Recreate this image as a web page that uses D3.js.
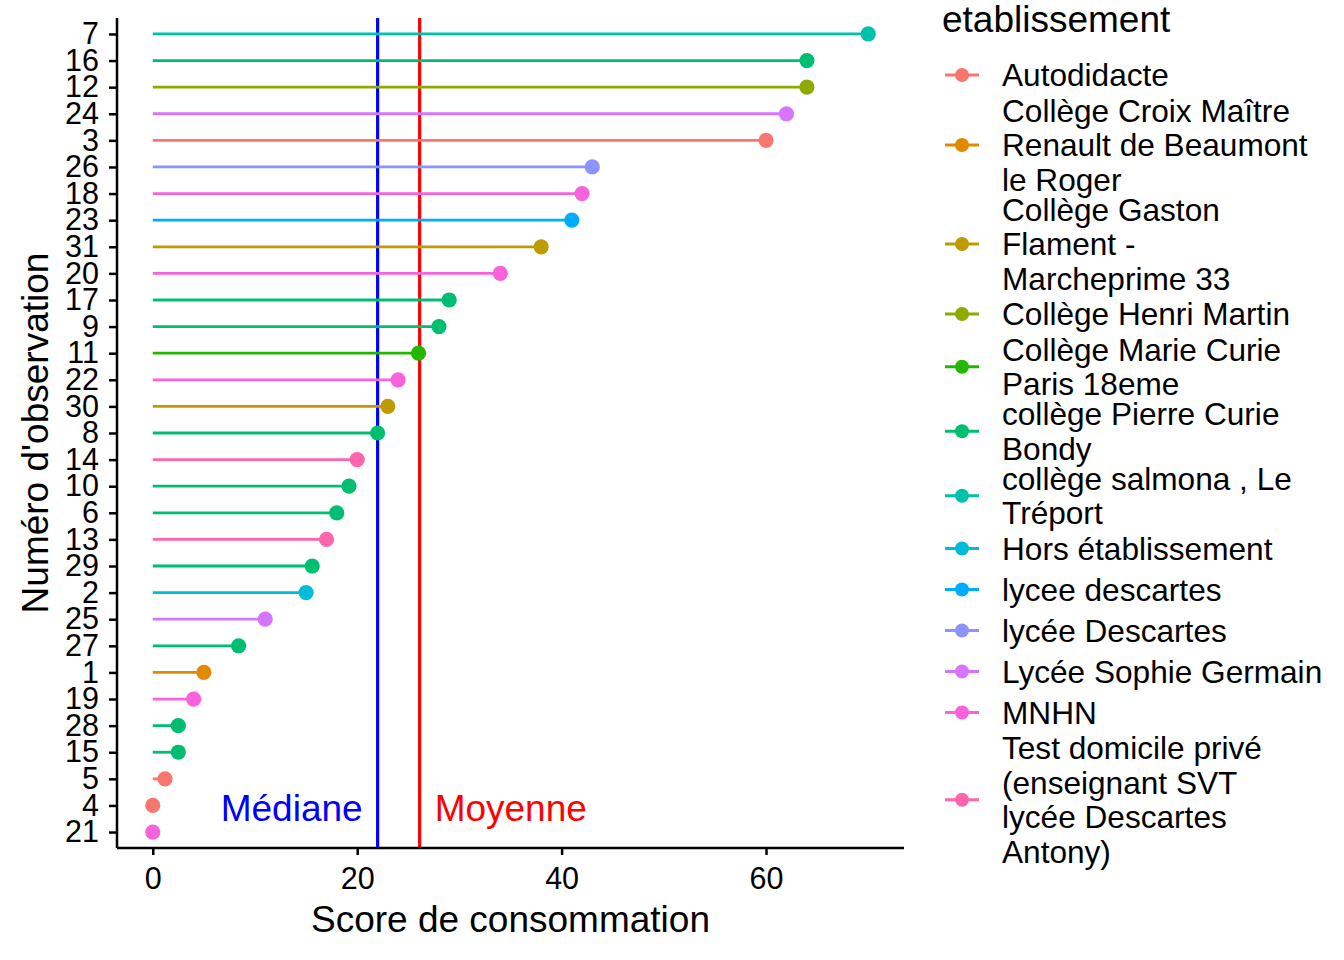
<!DOCTYPE html>
<html>
<head>
<meta charset="utf-8">
<script src="https://cdn.jsdelivr.net/npm/d3@7"></script>
<style>
html,body{margin:0;padding:0;background:#fff;}
svg{display:block;font-family:"Liberation Sans",Arial,Helvetica,sans-serif;}
</style>
</head>
<body>
<svg id="chart" width="1344" height="960"></svg>
<script>
// ---- data ----
const observations = ["7","16","12","24","3","26","18","23","31","20","17","9","11","22","30","8","14","10","6","13","29","2","25","27","1","19","28","15","5","4","21"];
const scores = [70,64,64,62,60,43,42,41,38,34,29,28,26,24,23,22,20,19.2,18,17,15.6,15,11,8.4,5,4,2.5,2.5,1.2,0,0];
const etablissements = [
  "collège salmona , Le Tréport",
  "collège Pierre Curie Bondy",
  "Collège Henri Martin",
  "Lycée Sophie Germain",
  "Autodidacte",
  "lycée Descartes",
  "MNHN",
  "lycee descartes",
  "Collège Gaston Flament - Marcheprime 33",
  "MNHN",
  "collège Pierre Curie Bondy",
  "collège Pierre Curie Bondy",
  "Collège Marie Curie Paris 18eme",
  "MNHN",
  "Collège Gaston Flament - Marcheprime 33",
  "collège Pierre Curie Bondy",
  "Test domicile privé (enseignant SVT lycée Descartes Antony)",
  "collège Pierre Curie Bondy",
  "collège Pierre Curie Bondy",
  "Test domicile privé (enseignant SVT lycée Descartes Antony)",
  "collège Pierre Curie Bondy",
  "Hors établissement",
  "Lycée Sophie Germain",
  "collège Pierre Curie Bondy",
  "Collège Croix Maître Renault de Beaumont le Roger",
  "MNHN",
  "collège Pierre Curie Bondy",
  "collège Pierre Curie Bondy",
  "Autodidacte",
  "Autodidacte",
  "MNHN"
];
const levels = [
  "Autodidacte",
  "Collège Croix Maître Renault de Beaumont le Roger",
  "Collège Gaston Flament - Marcheprime 33",
  "Collège Henri Martin",
  "Collège Marie Curie Paris 18eme",
  "collège Pierre Curie Bondy",
  "collège salmona , Le Tréport",
  "Hors établissement",
  "lycee descartes",
  "lycée Descartes",
  "Lycée Sophie Germain",
  "MNHN",
  "Test domicile privé (enseignant SVT lycée Descartes Antony)"
];
const legendLines = [
  ["Autodidacte"],
  ["Collège Croix Maître","Renault de Beaumont","le Roger"],
  ["Collège Gaston","Flament -","Marcheprime 33"],
  ["Collège Henri Martin"],
  ["Collège Marie Curie","Paris 18eme"],
  ["collège Pierre Curie","Bondy"],
  ["collège salmona , Le","Tréport"],
  ["Hors établissement"],
  ["lycee descartes"],
  ["lycée Descartes"],
  ["Lycée Sophie Germain"],
  ["MNHN"],
  ["Test domicile privé","(enseignant SVT","lycée Descartes","Antony)"]
];
const palette = ["#F8766D","#E18A00","#BE9C00","#8CAB00","#24B700","#00BE70","#00C1AB","#00BBDA","#00ACFC","#8B93FF","#D575FE","#F962DD","#FF65AC"];
const xTicks = [0,20,40,60];

const data = observations.map((o,i)=>({obs:o, score:scores[i], etab:etablissements[i]}));
const median = d3.median(scores);
const mean = d3.mean(scores);

// ---- layout ----
const svg = d3.select("#chart");
const panel = {left:117, right:904, top:18, bottom:848};
const color = d3.scaleOrdinal().domain(levels).range(palette);

const xMin = d3.min(scores), xMax = d3.max(scores);
const pad = (xMax - xMin)*0.05;
const x = d3.scaleLinear().domain([xMin - pad, xMax + pad]).range([panel.left, panel.right]);

const y = d3.scalePoint().domain(observations).range([panel.top, panel.bottom]).padding(0.6);

const g = svg.append("g");

// reference lines
g.append("line").attr("x1", x(median)).attr("x2", x(median))
  .attr("y1", panel.top).attr("y2", panel.bottom)
  .attr("stroke", "#0000FF").attr("stroke-width", 3.2);
g.append("line").attr("x1", x(mean)).attr("x2", x(mean))
  .attr("y1", panel.top).attr("y2", panel.bottom)
  .attr("stroke", "#FF0000").attr("stroke-width", 3.2);

// segments
g.selectAll("line.seg").data(data).join("line").attr("class","seg")
  .attr("x1", x(0)).attr("x2", d=>x(d.score))
  .attr("y1", d=>y(d.obs)).attr("y2", d=>y(d.obs))
  .attr("stroke", d=>color(d.etab)).attr("stroke-width", 2.8);

// points
g.selectAll("circle.pt").data(data).join("circle").attr("class","pt")
  .attr("cx", d=>x(d.score)).attr("cy", d=>y(d.obs)).attr("r", 7.6)
  .attr("fill", d=>color(d.etab));

// annotations
g.append("text").attr("x", x(median) - 15).attr("y", y("4") + 16)
  .attr("text-anchor","end").attr("fill","#0000FF").attr("font-size", 37).text("Médiane");
g.append("text").attr("x", x(mean) + 15).attr("y", y("4") + 16)
  .attr("text-anchor","start").attr("fill","#FF0000").attr("font-size", 37).text("Moyenne");

// axes
const xAxis = svg.append("g").attr("transform", `translate(0,${panel.bottom})`)
  .call(d3.axisBottom(x).tickValues(xTicks).tickSize(7).tickPadding(12).tickSizeOuter(0));
const yAxis = svg.append("g").attr("transform", `translate(${panel.left},0)`)
  .call(d3.axisLeft(y).tickSize(8).tickPadding(10).tickSizeOuter(0));
[xAxis, yAxis].forEach(a=>{
  a.select(".domain").attr("stroke","#000").attr("stroke-width",2.5);
  a.selectAll(".tick line").attr("stroke","#000").attr("stroke-width",2.5);
  a.selectAll(".tick text").attr("fill","#000").attr("font-size",30.5)
    .attr("font-family",'"Liberation Sans",Arial,Helvetica,sans-serif');
});
xAxis.select(".domain").attr("d", `M${panel.left},0H${panel.right}`);
yAxis.select(".domain").attr("d", `M0,${panel.top}V${panel.bottom}`);

// axis titles
svg.append("text").attr("x", (panel.left+panel.right)/2).attr("y", 932)
  .attr("text-anchor","middle").attr("font-size",37).attr("fill","#000").text("Score de consommation");
svg.append("text").attr("transform", `translate(48,${(panel.top+panel.bottom)/2}) rotate(-90)`)
  .attr("text-anchor","middle").attr("font-size",37).attr("fill","#000").text("Numéro d'observation");

// legend
const leg = svg.append("g");
leg.append("text").attr("x", 942).attr("y", 32).attr("font-size",37).attr("fill","#000").text("etablissement");
const lineH = 34.5, singleH = 41, textH = 30;
let legTop = 54.5;
levels.forEach((lv,i)=>{
  const lines = legendLines[i];
  const h = lines.length === 1 ? singleH : (lines.length-1)*lineH + textH;
  const cy = legTop + h/2;
  leg.append("line").attr("x1",945).attr("x2",979).attr("y1",cy).attr("y2",cy)
    .attr("stroke", color(lv)).attr("stroke-width",2.8);
  leg.append("circle").attr("cx",962).attr("cy",cy).attr("r",7).attr("fill",color(lv));
  lines.forEach((t,j)=>{
    leg.append("text").attr("x",1002)
      .attr("y", cy + (j - (lines.length-1)/2)*lineH)
      .attr("dy","0.36em").attr("font-size",31.6).attr("fill","#000").text(t);
  });
  legTop += h;
});
</script>
</body>
</html>
